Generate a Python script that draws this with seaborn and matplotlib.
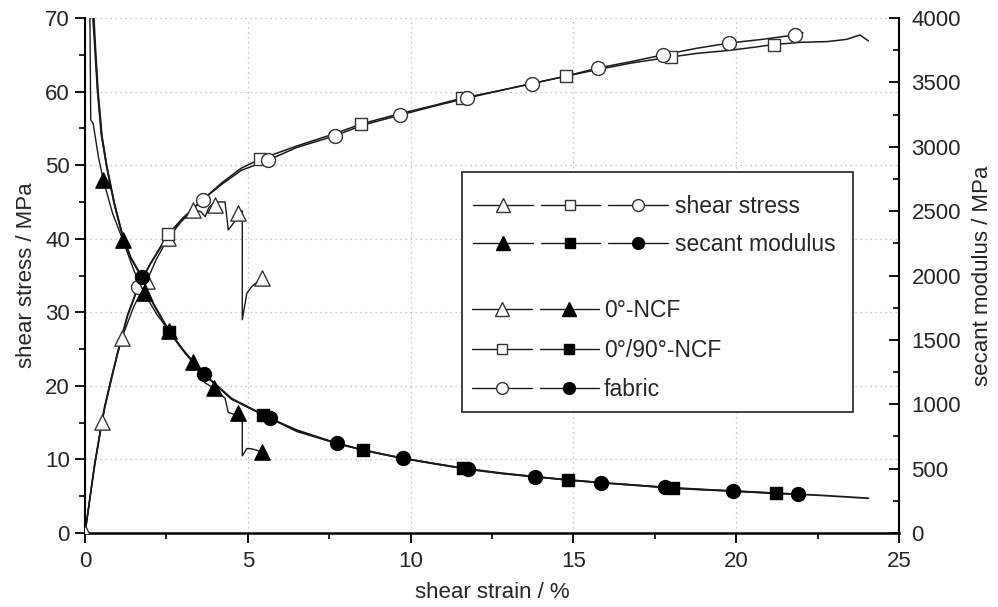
import matplotlib
matplotlib.use("Agg")
import matplotlib.pyplot as plt
import seaborn as sns
import numpy as np
import pandas as pd
from matplotlib.lines import Line2D
from matplotlib.legend_handler import HandlerTuple
from matplotlib.patches import Rectangle
from matplotlib.ticker import MultipleLocator

# ---------------- data ----------------
# shear stress curves (left axis, MPa) vs shear strain (%)
ncf0_stress_x = [0, 0.25, 0.51, 0.8, 1.13, 1.5, 1.89, 2.2, 2.56, 2.95, 3.33, 3.55, 3.69, 3.8, 3.99, 4.30, 4.40, 4.59, 4.69, 4.83, 4.83, 4.97, 5.12, 5.43]
ncf0_stress_y = [0, 7.8, 15.1, 21.0, 26.5, 30.8, 34.2, 37.3, 40.1, 42.3, 43.9, 43.7, 43.0, 44.2, 45.0, 45.0, 41.2, 42.3, 43.5, 43.8, 29.0, 32.6, 33.5, 34.6]
ncf0_stress_mx = [0, 0.51, 1.13, 1.89, 2.56, 3.33, 3.99, 4.69, 5.43]
ncf0_stress_my = [0, 15.1, 26.5, 34.2, 40.1, 43.9, 44.6, 43.5, 34.6]

ncf090_stress_x = [0, 0.3, 0.6, 1.0, 1.3, 1.64, 2.0, 2.55, 3.0, 3.61, 4.2, 4.8, 5.37, 6.5, 7.68, 8.48, 9.67, 10.7, 11.57, 12.7, 13.74, 14.77, 15.75, 16.8, 17.99, 18.8, 19.79, 20.5, 21.16, 22.0, 22.8, 23.39, 23.8, 24.06]
ncf090_stress_y = [0, 9.6, 17.2, 24.6, 29.6, 33.6, 36.6, 40.6, 42.8, 45.3, 47.6, 49.6, 50.8, 52.6, 54.3, 55.6, 57.0, 58.1, 59.1, 60.1, 61.1, 62.1, 63.0, 63.9, 64.7, 65.2, 65.6, 66.0, 66.4, 66.7, 66.8, 67.1, 67.7, 66.9]
ncf090_stress_mx = [2.55, 5.37, 8.48, 11.57, 14.77, 17.99, 21.16]
ncf090_stress_my = [40.6, 50.8, 55.6, 59.1, 62.1, 64.7, 66.4]

fabric_stress_x = [0, 0.3, 0.6, 1.0, 1.3, 1.64, 2.0, 2.55, 3.0, 3.61, 4.2, 4.8, 5.63, 6.5, 7.68, 8.5, 9.67, 10.7, 11.72, 12.7, 13.74, 14.77, 15.75, 16.8, 17.76, 18.8, 19.79, 20.8, 21.81, 22.05]
fabric_stress_y = [0, 9.4, 16.9, 24.4, 29.4, 33.5, 36.5, 40.4, 42.7, 45.3, 47.4, 49.3, 50.7, 52.4, 54.0, 55.4, 56.8, 58.0, 59.1, 60.1, 61.1, 62.1, 63.2, 64.1, 65.0, 65.9, 66.6, 67.1, 67.7, 68.0]
fabric_stress_mx = [1.64, 3.61, 5.63, 7.68, 9.67, 11.72, 13.74, 15.75, 17.76, 19.79, 21.81]
fabric_stress_my = [33.5, 45.3, 50.7, 54.0, 56.8, 59.1, 61.1, 63.2, 65.0, 66.6, 67.7]

# secant modulus curves (right axis, MPa)
ncf0_mod_x = [0.14, 0.16, 0.175, 0.25, 0.41, 0.56, 0.85, 1.16, 1.5, 1.82, 2.2, 2.58, 2.95, 3.33, 3.69, 3.97, 4.15, 4.30, 4.40, 4.59, 4.69, 4.83, 4.83, 4.97, 5.12, 5.43]
ncf0_mod_y = [4300, 3700, 3210, 3180, 2923, 2742, 2480, 2276, 2040, 1862, 1700, 1569, 1440, 1330, 1165, 1124, 1080, 1047, 936, 921, 930, 907, 600, 656, 654, 631]
ncf0_mod_mx = [0.56, 1.16, 1.82, 2.58, 3.33, 3.97, 4.69, 5.43]
ncf0_mod_my = [2742, 2276, 1862, 1569, 1330, 1124, 930, 631]

ncf090_mod_x = [0.22, 0.3, 0.38, 0.5, 0.67, 0.9, 1.13, 1.4, 1.74, 2.1, 2.59, 3.1, 3.66, 4.5, 5.48, 6.5, 7.73, 8.53, 9.76, 10.7, 11.62, 12.8, 13.82, 14.84, 15.85, 17.0, 18.07, 19.0, 19.89, 21.22, 22.5, 24.06]
ncf090_mod_y = [4100, 3780, 3450, 3100, 2845, 2560, 2330, 2140, 1991, 1780, 1563, 1390, 1233, 1040, 917, 790, 697, 645, 580, 540, 503, 465, 437, 412, 391, 370, 347, 336, 326, 308, 294, 270]
ncf090_mod_mx = [2.59, 5.48, 8.53, 11.62, 14.84, 18.07, 21.22]
ncf090_mod_my = [1563, 917, 645, 503, 412, 347, 308]

fabric_mod_x = [0.25, 0.32, 0.4, 0.52, 0.67, 0.9, 1.13, 1.4, 1.74, 2.1, 2.59, 3.1, 3.66, 4.5, 5.68, 6.5, 7.73, 8.6, 9.76, 10.7, 11.77, 12.8, 13.82, 14.84, 15.85, 17.0, 17.81, 19.0, 19.89, 21.0, 21.91, 22.05]
fabric_mod_y = [4100, 3760, 3420, 3080, 2840, 2555, 2330, 2140, 1991, 1780, 1565, 1392, 1233, 1045, 891, 800, 697, 640, 580, 540, 495, 462, 437, 412, 391, 369, 355, 338, 326, 312, 301, 300]
fabric_mod_mx = [1.74, 3.66, 5.68, 7.73, 9.76, 11.77, 13.82, 15.85, 17.81, 19.89, 21.91]
fabric_mod_my = [1991, 1233, 891, 697, 580, 495, 437, 391, 355, 326, 301]

x_ticks = [0, 5, 10, 15, 20, 25]
left_ticks = [0, 10, 20, 30, 40, 50, 60, 70]
right_ticks = [0, 500, 1000, 1500, 2000, 2500, 3000, 3500, 4000]

legend_top_labels = ["shear stress", "secant modulus"]
legend_bottom_labels = ["0°-NCF", "0°/90°-NCF", "fabric"]

# ---------------- style ----------------
sns.set_theme(style="white")
plt.rcParams["font.family"] = ["Liberation Sans", "DejaVu Sans"]
FS = 16
LFS = 16.5
LINE_C = "#1a1a1a"
EDGE_C = "#333333"

fig = plt.figure(figsize=(9.98, 6.07), dpi=100)
ax = fig.add_axes([0.0852, 0.1219, 0.8156, 0.8484])
ax2 = ax.twinx()

def draw_line(axis, xs, ys, lw=1.1):
    sns.lineplot(x=xs, y=ys, ax=axis, color=LINE_C, lw=lw, estimator=None,
                 sort=False, legend=False, zorder=2)

def draw_marks(axis, xs, ys, marker, size, filled):
    sns.scatterplot(x=xs, y=ys, ax=axis, marker=marker, s=size ** 2,
                    color=("black" if filled else "white"),
                    edgecolor=("black" if filled else EDGE_C),
                    linewidth=1.0, legend=False, zorder=3)

# stress (open markers)
draw_line(ax, ncf0_stress_x, ncf0_stress_y, lw=1.0)
draw_line(ax, ncf090_stress_x, ncf090_stress_y)
draw_line(ax, fabric_stress_x, fabric_stress_y)
draw_marks(ax, ncf0_stress_mx, ncf0_stress_my, "^", 11, False)
draw_marks(ax, ncf090_stress_mx, ncf090_stress_my, "s", 8.5, False)
draw_marks(ax, fabric_stress_mx, fabric_stress_my, "o", 10, False)

# secant modulus (filled markers)
draw_line(ax2, ncf0_mod_x, ncf0_mod_y, lw=1.0)
draw_line(ax2, ncf090_mod_x, ncf090_mod_y, lw=1.3)
draw_line(ax2, fabric_mod_x, fabric_mod_y, lw=1.3)
draw_marks(ax2, ncf0_mod_mx, ncf0_mod_my, "^", 11, True)
draw_marks(ax2, ncf090_mod_mx, ncf090_mod_my, "s", 8.5, True)
draw_marks(ax2, fabric_mod_mx, fabric_mod_my, "o", 10, True)

# axes limits / ticks
ax.set_xlim(0, 25)
ax.set_ylim(0, 70)
ax2.set_ylim(0, 4000)
ax.set_xticks(x_ticks)
ax.set_yticks(left_ticks)
ax2.set_yticks(right_ticks)
ax.xaxis.set_minor_locator(MultipleLocator(2.5))
ax.yaxis.set_minor_locator(MultipleLocator(5))
ax2.yaxis.set_minor_locator(MultipleLocator(250))

ax.tick_params(axis="both", which="major", direction="out", length=7, width=1.3,
               labelsize=FS, color="black", pad=4, left=True, bottom=True)
ax.tick_params(axis="both", which="minor", direction="out", length=4, width=1.2,
               color="black", left=True, bottom=True)
ax.tick_params(axis="x", which="major", pad=6)
ax2.tick_params(axis="y", which="major", direction="in", length=7, width=1.3,
                labelsize=FS, color="black", pad=9, right=True)
ax2.tick_params(axis="y", which="minor", direction="in", length=4, width=1.2,
                color="black", right=True)

for sp in ["top", "right"]:
    ax.spines[sp].set_visible(False)
for sp in ["top", "left", "bottom"]:
    ax2.spines[sp].set_visible(False)
ax.spines["left"].set_linewidth(1.5)
ax.spines["bottom"].set_linewidth(1.8)
ax2.spines["right"].set_linewidth(1.5)
for sp in ax.spines.values():
    sp.set_color("black")
ax2.spines["right"].set_color("black")

ax.grid(True, which="major", linestyle=(0, (1, 3)), color="#b5b5b5", linewidth=0.9)
ax.set_axisbelow(True)

ax.set_xlabel("shear strain / %", fontsize=FS, labelpad=7)
ax.set_ylabel("shear stress / MPa", fontsize=FS, labelpad=6)
ax2.set_ylabel("secant modulus / MPa", fontsize=FS, labelpad=8)

# ---------------- legend ----------------
def proxy(marker, size, filled):
    return Line2D([], [], color=LINE_C, lw=1.0, marker=marker, markersize=size,
                  markerfacecolor=("black" if filled else "white"),
                  markeredgecolor=("black" if filled else EDGE_C), markeredgewidth=1.0)

tri_o, sq_o, ci_o = proxy("^", 10, False), proxy("s", 7.5, False), proxy("o", 8.5, False)
tri_f, sq_f, ci_f = proxy("^", 10, True), proxy("s", 7.5, True), proxy("o", 8.5, True)

frame = Rectangle((0.4628, 0.2355), 0.4811, 0.4649, transform=ax2.transAxes,
                  facecolor="white", edgecolor="#333333", linewidth=1.3, zorder=6)
ax2.add_patch(frame)

legA = ax2.legend([(tri_o, sq_o, ci_o), (tri_f, sq_f, ci_f)], legend_top_labels,
                  handler_map={tuple: HandlerTuple(ndivide=None, pad=0.35)},
                  loc="upper left", bbox_to_anchor=(0.4767, 0.657), frameon=False,
                  handlelength=8.5, handletextpad=0.32, labelspacing=0.66,
                  fontsize=LFS, borderpad=0, borderaxespad=0)
legA.set_zorder(7)
ax2.add_artist(legA)
legB = ax2.legend([(tri_o, tri_f), (sq_o, sq_f), (ci_o, ci_f)], legend_bottom_labels,
                  handler_map={tuple: HandlerTuple(ndivide=None, pad=0.35)},
                  loc="upper left", bbox_to_anchor=(0.4754, 0.454), frameon=False,
                  handlelength=5.55, handletextpad=0.2, labelspacing=0.72,
                  fontsize=LFS, borderpad=0, borderaxespad=0)
legB.set_zorder(7)

fig.savefig("out.png", dpi=100)
